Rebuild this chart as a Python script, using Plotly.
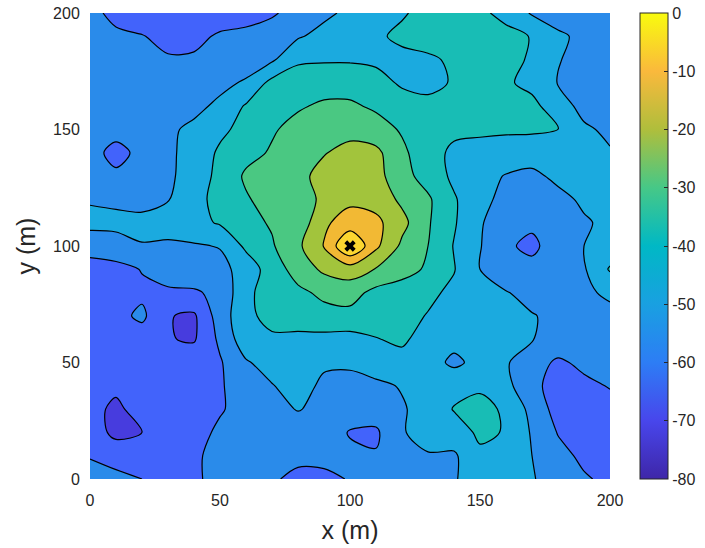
import plotly.graph_objects as go

# grid coordinates (m)
X_M = list(range(0, 201, 10))
Y_M = list(range(0, 201, 10))

# received level grid, rows from y=0 (bottom) to y=200 (top)
Z_ROWS = [
    [-57, -58, -60, -63, -61.5, -57, -57, -59, -62, -62, -59.5, -56, -54, -52, -50.5, -47, -46, -49.5, -53, -59, -62],
    [-60.5, -63, -64, -63, -61, -58, -57, -57, -58, -57.5, -58.5, -59.3, -53, -51, -51.5, -41.5, -45, -50, -57, -62, -64],
    [-64, -73, -70, -65, -64, -58, -56, -55, -55, -56, -60.5, -61.5, -51, -45, -44, -38.5, -40.5, -51, -60.5, -65, -65],
    [-67, -72, -66, -65, -64, -61, -56, -53, -49.5, -52.5, -56, -55, -51, -46, -39.5, -37, -41.5, -53, -64, -64, -63],
    [-67, -68, -66, -65, -64, -61, -55, -50.5, -46, -52, -53, -52, -49.3, -45, -43, -41.5, -47, -58, -63, -62, -59.5],
    [-64, -65, -65, -65, -64, -61, -51, -46, -47, -48.5, -48.5, -45, -44, -46, -52, -47, -49, -56, -61.5, -58, -58],
    [-63.5, -65, -65, -69.5, -71, -58, -44, -42, -43, -43, -43.5, -40.5, -38, -45, -47, -47.5, -48.5, -49.5, -54, -54.5, -54],
    [-62.5, -63, -58, -69.5, -71.5, -55, -43, -36, -34, -33, -33, -34.5, -37, -40.5, -44, -46.5, -48, -49.5, -52, -54, -53],
    [-63, -63, -62, -61, -61, -58, -42, -36, -32, -28, -26, -33, -35, -38, -42, -47, -49.5, -53, -54, -52, -48],
    [-64, -63.5, -59.5, -57, -55, -53, -46, -35, -26, -18, -15, -20.5, -26, -31.5, -39.5, -50, -56, -56, -54, -51, -39],
    [-56, -53, -50.5, -51.5, -51, -49.5, -38, -31, -22, -9.5, 11, -8, -22, -30, -40.5, -49.5, -58, -63, -53, -50, -46],
    [-47, -48, -47.5, -46, -43, -39, -33, -29, -27, -11.5, -6, -7.5, -17, -29, -39, -49, -56, -57.5, -55, -51, -48],
    [-51, -51.5, -53, -50.5, -43, -37, -31, -26, -23.5, -18.5, -12, -14, -22, -28.5, -39, -47, -53, -54.5, -52.5, -48.5, -47],
    [-56, -58, -56.5, -52, -45, -37.5, -28.5, -25, -22.5, -17, -14, -16.5, -26.5, -34, -42, -47, -50.5, -52, -48, -46.5, -46],
    [-56, -63.5, -57, -52, -46, -38.5, -33, -29, -24, -20.5, -17, -17.5, -28, -36, -42, -44, -45, -46, -46.5, -47.5, -49],
    [-56, -56, -55, -52, -47.5, -42, -37, -31, -27, -24, -23, -26, -31, -35, -38, -38, -38.5, -38.5, -39.5, -48, -52.5],
    [-56, -56.5, -57, -56, -53, -47.5, -39, -34, -31, -28.5, -28.5, -31.5, -35, -37, -37.5, -36, -36.5, -38, -44, -54, -55],
    [-57, -57.5, -58, -58, -56, -53, -48.5, -37, -35, -34, -34, -36, -41.5, -43, -39, -37, -39, -42, -50.5, -53, -55],
    [-57, -57, -58, -59, -59, -58, -56, -51.5, -41.5, -41, -41, -42, -42.5, -41.5, -38.5, -36, -37.5, -41, -49.5, -53, -55],
    [-56, -58, -59.5, -63, -62, -59, -58, -56, -51, -47, -44, -41.5, -38, -36, -35, -35, -37, -40.5, -48.5, -52, -54],
    [-57, -63, -66, -66, -65, -64, -63, -61, -57, -52, -48, -44, -41, -37, -36, -38, -43, -51, -54, -55, -55],
]

# contour levels
LEVEL_START = -70
LEVEL_END = 0
LEVEL_STEP = 10

# fill colours of the bands: below -70, -70..-60, ..., -10..0, above 0
BAND_COLORS = [
    "rgb(71,60,222)", "rgb(66,99,251)", "rgb(42,139,234)", "rgb(27,170,223)",
    "rgb(24,189,181)", "rgb(74,200,130)", "rgb(162,196,60)", "rgb(242,185,52)",
    "rgb(252,214,48)",
]

# colorbar (parula-like)
PARULA = [
    [0.0, "rgb(62,38,168)"], [0.125, "rgb(72,70,236)"], [0.25, "rgb(45,125,245)"],
    [0.375, "rgb(25,160,225)"], [0.5, "rgb(0,184,197)"], [0.625, "rgb(70,200,135)"],
    [0.75, "rgb(175,190,60)"], [0.875, "rgb(250,185,60)"], [1.0, "rgb(249,251,14)"],
]
CBAR_MIN = -80
CBAR_MAX = 0
CBAR_TICKS = [0, -10, -20, -30, -40, -50, -60, -70, -80]

AXIS_TICKS = [0, 50, 100, 150, 200]

SOURCE_X = [100]
SOURCE_Y = [100]

# stepped colourscale so each band gets its own colour
nb = len(BAND_COLORS)
band_scale = []
for k, c in enumerate(BAND_COLORS):
    lo = max(0.0, (k - 0.5) / (nb - 1))
    hi = min(1.0, (k + 0.5) / (nb - 1))
    band_scale.append([lo, c])
    band_scale.append([hi, c])

FONT = "Liberation Sans, Arial, Helvetica, sans-serif"
TXT = "#262626"

# pixel layout: plot 90..610 x 13..479, colorbar 640..668
W, H = 705, 548
ML, MR, MT, MB = 90, 5, 5, 69
PW = W - ML - MR
PH = H - MT - MB
PLOT_L, PLOT_R, PLOT_T, PLOT_B = 90, 610, 13, 479
x_dom = [(PLOT_L - ML) / PW, (PLOT_R - ML) / PW]
y_dom = [(H - MB - PLOT_B) / PH, (H - MB - PLOT_T) / PH]

fig = go.Figure()
fig.add_trace(go.Contour(
    x=X_M, y=Y_M, z=Z_ROWS,
    autocontour=False,
    contours=dict(start=LEVEL_START, end=LEVEL_END, size=LEVEL_STEP,
                  coloring="fill", showlines=True),
    colorscale=band_scale,
    line=dict(color="black", width=1.2, smoothing=0.9),
    showscale=False,
    hoverinfo="skip",
))

fig.add_trace(go.Scatter(
    x=SOURCE_X, y=SOURCE_Y, mode="markers",
    marker=dict(symbol="x", size=10, color="black", line=dict(width=0)),
    showlegend=False, hoverinfo="skip",
))

fig.add_trace(go.Scatter(
    x=[None], y=[None], mode="markers",
    marker=dict(color=[CBAR_MIN], cmin=CBAR_MIN, cmax=CBAR_MAX, colorscale=PARULA,
                showscale=True,
                colorbar=dict(
                    x=(640 - ML) / PW, xanchor="left",
                    y=(y_dom[0] + y_dom[1]) / 2, yanchor="middle",
                    len=y_dom[1] - y_dom[0], lenmode="fraction",
                    thickness=28, thicknessmode="pixels",
                    xpad=0, ypad=0, outlinewidth=1, outlinecolor=TXT, borderwidth=0,
                    tickvals=CBAR_TICKS, ticktext=[str(v) for v in CBAR_TICKS],
                    ticks="inside", ticklen=4, tickcolor=TXT,
                    tickfont=dict(family=FONT, size=16, color=TXT),
                )),
    showlegend=False, hoverinfo="skip",
))

fig.update_layout(
    width=W, height=H,
    margin=dict(l=ML, r=MR, t=MT, b=MB, autoexpand=False),
    paper_bgcolor="white", plot_bgcolor="white",
    font=dict(family=FONT, color=TXT),
    xaxis=dict(domain=x_dom, range=[0, 200], tickvals=AXIS_TICKS, ticks="outside", ticklen=7,
               tickcolor="rgba(0,0,0,0)", showgrid=False, zeroline=False, showline=False,
               tickfont=dict(family=FONT, size=16, color=TXT),
               title=dict(text="x (m)", font=dict(family=FONT, size=25, color=TXT), standoff=13)),
    yaxis=dict(domain=y_dom, range=[0, 200], tickvals=AXIS_TICKS, ticks="outside", ticklen=6,
               tickcolor="rgba(0,0,0,0)", showgrid=False, zeroline=False, showline=False,
               tickfont=dict(family=FONT, size=16, color=TXT),
               title=dict(text="y (m)", font=dict(family=FONT, size=25, color=TXT), standoff=10)),
)

fig.write_html("out.html")
